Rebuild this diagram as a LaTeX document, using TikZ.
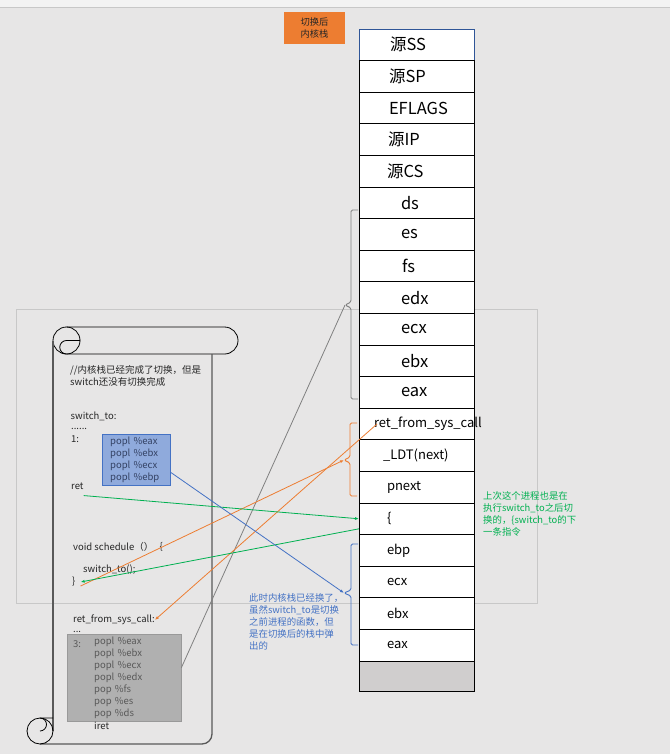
\documentclass[tikz,border=0pt]{standalone}
\usepackage{fontspec}
\setmainfont{Noto Sans CJK SC}
\usetikzlibrary{arrows.meta,positioning}
\definecolor{pagegray}{RGB}{231,230,230}
\definecolor{barwhite}{RGB}{243,243,243}
\definecolor{framegray}{RGB}{200,200,200}
\definecolor{accentorange}{RGB}{237,125,49}
\definecolor{notegreen}{RGB}{0,176,80}
\definecolor{noteblue}{RGB}{68,114,196}
\definecolor{boxblue}{RGB}{143,170,220}
\definecolor{bluetext}{RGB}{52,66,100}
\definecolor{boxgray}{RGB}{176,176,176}
\definecolor{graytext}{RGB}{89,89,89}
\definecolor{linegray}{RGB}{128,128,128}
\definecolor{inkdark}{RGB}{38,38,38}
\definecolor{ssblue}{RGB}{47,85,151}
\definecolor{cellgray}{RGB}{208,206,206}

\begin{document}
\begin{tikzpicture}[x=1pt, y=-1pt,
      cell/.style={rectangle, draw, fill=white, line width=0.8pt, inner sep=0pt, outer sep=0pt,
                   text width=115pt, minimum height=31.6pt, align=left, font=\fontsize{16.5}{18}\selectfont},
      cellsm/.style={cell, font=\fontsize{13}{15}\selectfont},
      code/.style={anchor=west, inner sep=0pt, align=left, text=inkdark, font=\fontsize{9.5}{12}\selectfont},
      note/.style={anchor=north west, inner sep=0pt, align=left, font=\fontsize{9.4}{12.2}\selectfont},
      bluebox/.style={anchor=north west, draw=noteblue, fill=boxblue, inner xsep=8pt, inner ysep=0pt,
                      text width=52pt, minimum height=51pt, align=left, text=bluetext, font=\fontsize{9.5}{12}\selectfont},
      graybox/.style={anchor=north west, draw=linegray!80, fill=boxgray, inner xsep=27pt, inner ysep=0pt,
                      text width=60pt, minimum height=87pt, align=left, text=graytext, font=\fontsize{9.5}{11.9}\selectfont},
      bracepath/.style={line width=0.9pt, rounded corners=1.5pt},
      scrollside/.style={line width=1.3pt, draw=graytext},
      link/.style={line width=0.8pt},
      arr/.style={-{Latex[length=4pt, width=3pt]}}]
    \useasboundingbox (0,0) rectangle (670,754);
    \fill[pagegray] (0,0) rectangle (670,754);
    \fill[barwhite] (0,0) rectangle (670,7);
    \draw[framegray] (0,7) -- (670,7);
    \draw[framegray, line width=0.8pt] (16,309) rectangle (537,603);

    \node[fill=accentorange, text=inkdark, minimum width=61pt, minimum height=32pt, align=center,
          font=\fontsize{9.3}{12.5}\selectfont] (title) at (314.5,28) {切换后\\内核栈};

    % scroll
    \draw[line width=0.8pt] (66.5,340.5) circle[radius=13.5];
    \draw[line width=0.8pt] (66.5,327) -- (224.5,327) arc[start angle=-90, end angle=90, radius=13.5] -- (66.5,354);
    \draw[line width=0.8pt] (80,340.5) -- (66.5,340.5) arc[start angle=-90, end angle=-270, radius=6.75];
    \draw[scrollside] (53,340.5) -- (53,731);
    \draw[scrollside] (212,354) -- (212,734) arc[start angle=0, end angle=90, radius=10] -- (40,744);
    \draw[line width=0.8pt] (40,731) circle[radius=13];
    \draw[line width=0.8pt] (53,718) -- (40,718) arc[start angle=-90, end angle=90, radius=6.5];

    \node[code] (comment) at (70,375.5) {//内核栈已经完成了切换，但是\\switch还没有切换完成};
    \node[code] (swlbl) at (70.5,416) {switch\_to:};
    \node[code] (dots) at (71,429) {......};
    \node[code] (one) at (71,439) {1:};
    \node[bluebox] (popblue) at (102,434) {popl \%eax\\popl \%ebx\\popl \%ecx\\popl \%ebp};
    \node[code] (retlbl) at (71,486) {ret};
    \node[code] (sched) at (73,547) {void schedule（）｛};
    \node[code] (callsw) at (83,570) {switch\_to();};
    \node[code] (closebr) at (72,582) {\}};
    \node[code] (rfslbl) at (73,620) {ret\_from\_sys\_call:};
    \node[code] (dots2) at (73,632) {...};
    \node[graybox] (popgray) at (67,634) {popl \%eax\\popl \%ebx\\popl \%ecx\\popl \%edx\\pop \%fs\\pop \%es\\pop \%ds};
    \node[code, text=graytext] (three) at (73,644) {3:};
    \node[code] (iret) at (94,726) {iret};

    % kernel stack
    \node[cell, draw=ssblue, anchor=north] (ss) at (416.5,29) {\hspace*{31pt}源SS};
    \node[cell, below=0pt of ss] (sp) {\hspace*{30pt}源SP};
    \node[cell, below=0pt of sp] (eflags) {\hspace*{30pt}EFLAGS};
    \node[cell, below=0pt of eflags] (ip) {\hspace*{29pt}源IP};
    \node[cell, below=0pt of ip] (cs) {\hspace*{28pt}源CS};
    \node[cell, below=0pt of cs] (ds) {\hspace*{42pt}ds};
    \node[cell, below=0pt of ds] (es) {\hspace*{42pt}es};
    \node[cell, below=0pt of es] (fs) {\hspace*{43pt}fs};
    \node[cell, below=0pt of fs] (edx) {\hspace*{42pt}edx};
    \node[cell, below=0pt of edx] (ecxhi) {\hspace*{42pt}ecx};
    \node[cell, below=0pt of ecxhi] (ebxhi) {\hspace*{42pt}ebx};
    \node[cell, below=0pt of ebxhi] (eaxhi) {\hspace*{42pt}eax};
    \node[cellsm, below=0pt of eaxhi] (rfs) {\hspace*{15pt}ret\_from\_sys\_call};
    \node[cellsm, below=0pt of rfs] (ldt) {\hspace*{24pt}\_LDT(next)};
    \node[cellsm, below=0pt of ldt] (pnext) {\hspace*{28pt}pnext};
    \node[cellsm, below=0pt of pnext] (lbrace) {\hspace*{28pt}\{};
    \node[cellsm, below=0pt of lbrace] (ebp) {\hspace*{28pt}ebp};
    \node[cellsm, below=0pt of ebp] (ecxlo) {\hspace*{28pt}ecx};
    \node[cellsm, below=0pt of ecxlo] (ebxlo) {\hspace*{28pt}ebx};
    \node[cellsm, below=0pt of ebxlo] (eaxlo) {\hspace*{28pt}eax};
    \node[cell, fill=cellgray, minimum height=30pt, below=0pt of eaxlo] (stackend) {};

    % braces
    \coordinate (gtip) at (345,305);
    \coordinate (otip) at (344,460);
    \coordinate (btip) at (344,593);
    \draw[bracepath, linegray] (358,210) -- (351,210) -- (351,302) -- (gtip) -- (351,308) -- (351,399) -- (358,399);
    \draw[bracepath, accentorange] (357,423) -- (350,423) -- (350,457) -- (otip) -- (350,463) -- (350,496) -- (357,496);
    \draw[bracepath, noteblue] (358,544) -- (351,544) -- (351,590) -- (btip) -- (351,596) -- (351,645) -- (358,645);

    \draw[link, linegray] (popgray.10) -- (gtip);
    \draw[link, accentorange, arr] ([xshift=5pt, yshift=-4pt]closebr.east) -- (otip);
    \draw[link, accentorange, arr] ([xshift=18pt]rfs.west) -- (rfslbl.east);
    \draw[link, notegreen, arr] ([yshift=-6pt]retlbl.south east) -- (lbrace.west);
    \draw[link, notegreen, arr] ([yshift=-10pt]lbrace.west) -- ([xshift=5pt]closebr.east);
    \draw[link, noteblue, arr] (popblue.-20) -- (btip);

    \node[note, text=notegreen] (greennote) at (483,491) {上次这个进程也是在\\执行switch\_to之后切\\换的，\{switch\_to的下\\一条指令};
    \node[note, text=noteblue] (bluenote) at (249,593) {此时内核栈已经换了，\\虽然switch\_to是切换\\之前进程的函数，但\\是在切换后的栈中弹\\出的};
  \end{tikzpicture}
\end{document}
